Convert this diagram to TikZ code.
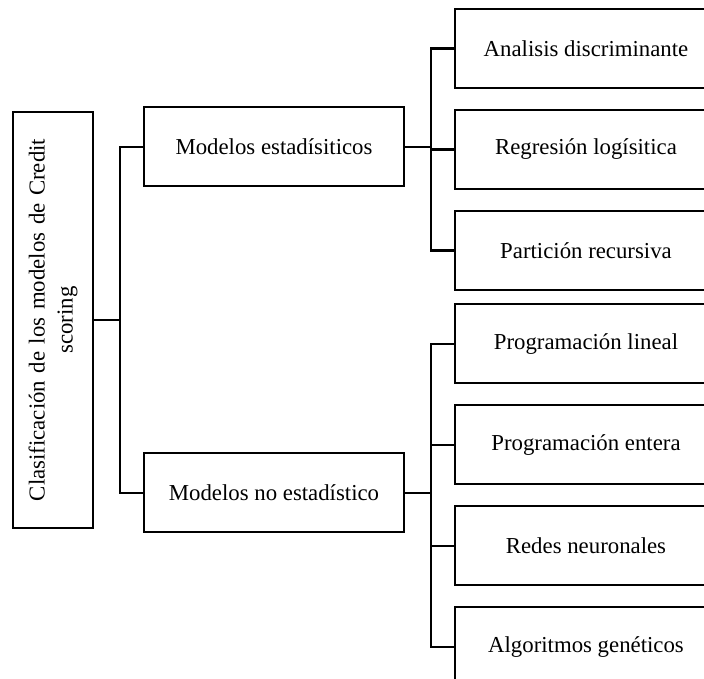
\documentclass[tikz,border=0pt]{standalone}
\usepackage{fontspec}
\setmainfont{Liberation Serif}
\usepackage{tikz}
\usetikzlibrary{positioning}

\tikzset{
  box/.style={draw, line width=2pt, minimum width=260pt, minimum height=79pt, inner sep=2pt, font=\fontsize{22.8}{28}\selectfont},
  rootbox/.style={box, rotate=90, minimum width=416pt, minimum height=80pt, text width=405pt, align=center},
  link/.style={line width=2.2pt}
}

\begin{document}
\begin{tikzpicture}[x=1pt,y=1pt, node distance=20pt]
\useasboundingbox (0,0) rectangle (704,679);
\clip (0,0) rectangle (704,679);

\node[rootbox] (root) at (53,359) {Clasificación de los modelos de Credit\\ scoring};
\node[box] (est) at (274,532) {Modelos estadísiticos};
\node[box] (noest) at (274,186) {Modelos no estadístico};

\node[box, minimum width=262pt] (a1) at (586,630.5) {Analisis discriminante};
\node[box, minimum width=262pt, below=of a1] (a2) {Regresión logísitica};
\node[box, minimum width=262pt, below=of a2] (a3) {Partición recursiva};

\node[box, minimum width=262pt] (b1) at (586,335) {Programación lineal};
\node[box, minimum width=262pt, below=of b1] (b2) {Programación entera};
\node[box, minimum width=262pt, below=of b2] (b3) {Redes neuronales};
\node[box, minimum width=262pt, below=of b3] (b4) {Algoritmos genéticos};

\draw[link] (root.south) -- ++(26,0) coordinate (j1);
\draw[link] (est.west) -| (j1) |- (noest.west);

\draw[link] (est.east) -- ++(26,0) coordinate (j2);
\draw[link] (j2) |- (a1.west);
\draw[link] (j2) |- (a2.west);
\draw[link] (j2) |- (a3.west);

\draw[link] (noest.east) -- ++(26,0) coordinate (j3);
\draw[link] (j3) |- (b1.west);
\draw[link] (j3) |- (b2.west);
\draw[link] (j3) |- (b3.west);
\draw[link] (j3) |- (b4.west);
\end{tikzpicture}
\end{document}
